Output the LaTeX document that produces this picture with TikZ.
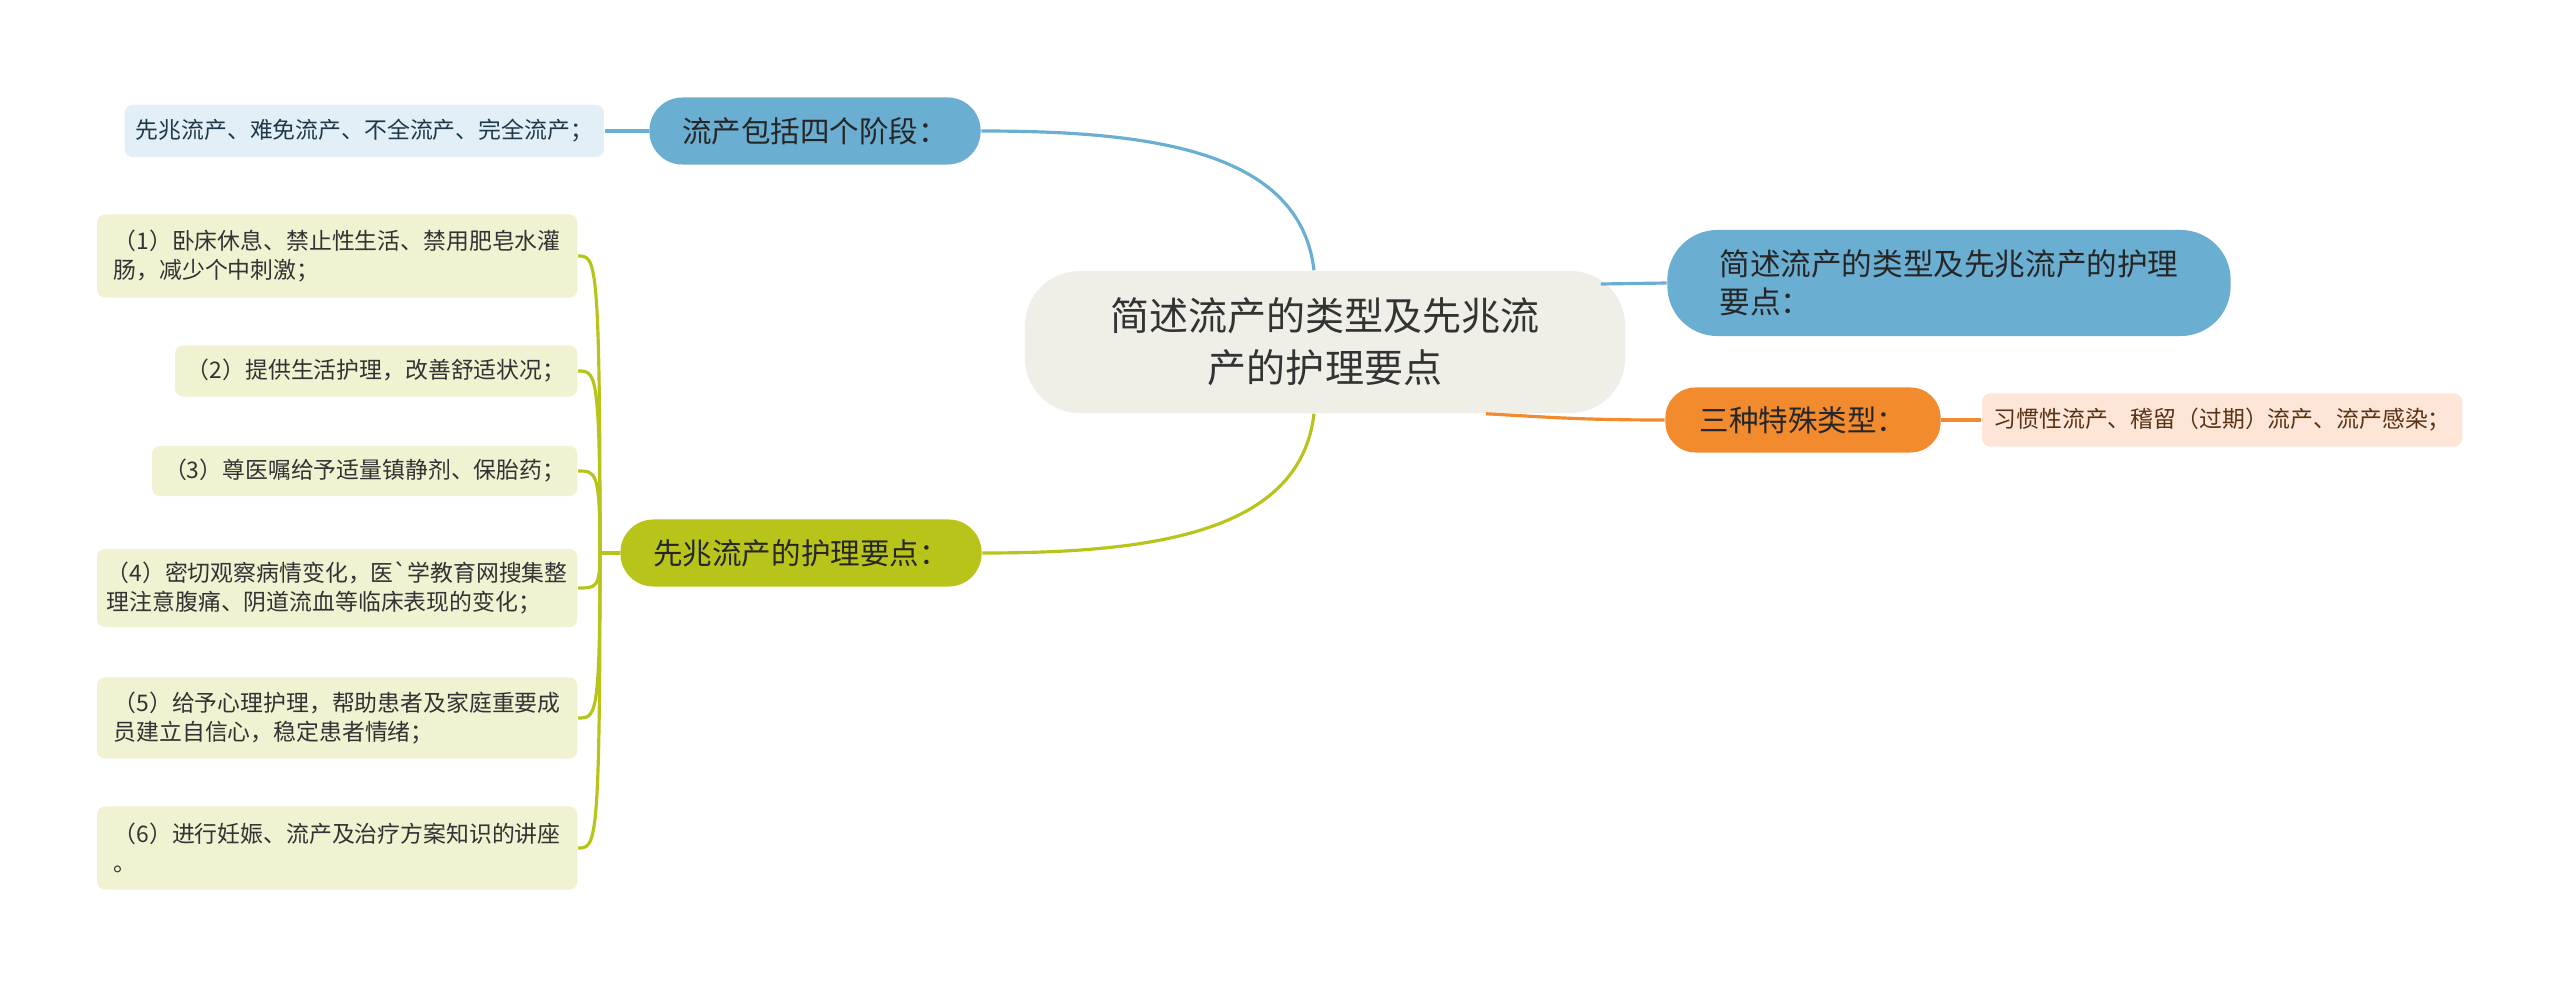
\documentclass[tikz,border=0pt]{standalone}
\usepackage{fontspec}
\setmainfont{Noto Sans CJK SC}
\usepackage{tikz}
\usetikzlibrary{positioning, calc}
\definecolor{mmRoot}{HTML}{EFEFE7}
\definecolor{mmBlue}{HTML}{6AAED2}
\definecolor{mmBlueLeaf}{HTML}{E2EFF7}
\definecolor{mmOrange}{HTML}{F28A2E}
\definecolor{mmOrangeLeaf}{HTML}{FDE6D8}
\definecolor{mmGreen}{HTML}{B9C41B}
\definecolor{mmGreenLeaf}{HTML}{F0F2D2}
\definecolor{mmText}{HTML}{333333}
\definecolor{mmBlueText}{HTML}{1E3A4A}
\definecolor{mmBrownText}{HTML}{5A3214}

\begin{document}
\begin{tikzpicture}[
  x=0.01cm, y=-0.01cm,
  root/.style={
    rectangle, rounded corners=0.55cm, fill=mmRoot,
    minimum width=6cm, minimum height=1.42cm, inner sep=0pt,
    font=\fontsize{11.1}{14.8}\selectfont, align=center, text=mmText,
  },
  topic/.style={
    rectangle, rounded corners=0.33cm, fill=#1,
    minimum height=0.67cm, inner sep=0pt,
    font=\fontsize{8.4}{10.7}\selectfont, text=black!85,
  },
  leaf/.style={
    rectangle, rounded corners=0.08cm, fill=#1,
    inner sep=0pt, align=left,
    font=\fontsize{6.5}{8.4}\selectfont, text=mmText,
  },
  link/.style={line width=0.9pt, color=#1},
]
\fill[white] (0,0) rectangle (2560,988);

% Root
\node[root] (root) at (1325,342) {简述流产的类型及先兆流\\产的护理要点};

% Blue branch (stages)
\node[topic=mmBlue, minimum width=3.31cm] (stages) at (815,131) {流产包括四个阶段：};
\node[leaf=mmBlueLeaf, text=mmBlueText, minimum width=4.79cm, minimum height=0.52cm,
  left=0.44cm of stages] (stagesList) {先兆流产、难免流产、不全流产、完全流产；};

% Blue branch (title)
\node[topic=mmBlue, minimum width=5.63cm, minimum height=1.06cm, rounded corners=0.5cm,
  align=left, font=\fontsize{8.7}{10.7}\selectfont] (title) at (1949,283)
  {简述流产的类型及先兆流产的护理\\要点：};

% Orange branch
\node[topic=mmOrange, minimum width=2.75cm, minimum height=0.65cm, rounded corners=0.3cm]
  (special) at (1803,420) {三种特殊类型：};
\node[leaf=mmOrangeLeaf, text=mmBrownText, minimum width=4.8cm, minimum height=0.53cm,
  right=0.4cm of special] (specialList) {习惯性流产、稽留（过期）流产、流产感染；};

% Green branch
\node[topic=mmGreen, minimum width=3.61cm] (care) at (801,553) {先兆流产的护理要点：};
\coordinate (careTrunk) at (600,553);

\node[leaf=mmGreenLeaf, minimum width=4.8cm, minimum height=0.83cm, anchor=east]
  (care1) at (578,256) {（1）卧床休息、禁止性生活、禁用肥皂水灌\\肠，减少个中刺激；};
\node[leaf=mmGreenLeaf, minimum width=4.02cm, minimum height=0.51cm, anchor=east]
  (care2) at (578,371) {（2）提供生活护理，改善舒适状况；};
\node[leaf=mmGreenLeaf, minimum width=4.25cm, minimum height=0.5cm, anchor=east]
  (care3) at (578,471) {（3）尊医嘱给予适量镇静剂、保胎药；};
\node[leaf=mmGreenLeaf, minimum width=4.8cm, minimum height=0.78cm, anchor=east]
  (care4) at (578,588) {（4）密切观察病情变化，医\textasciigrave 学教育网搜集整\\理注意腹痛、阴道流血等临床表现的变化；};
\node[leaf=mmGreenLeaf, minimum width=4.8cm, minimum height=0.81cm, anchor=east]
  (care5) at (578,718) {（5）给予心理护理，帮助患者及家庭重要成\\员建立自信心，稳定患者情绪；};
\node[leaf=mmGreenLeaf, minimum width=4.8cm, minimum height=0.83cm, anchor=east]
  (care6) at (578,848) {（6）进行妊娠、流产及治疗方案知识的讲座\\。};

% Connectors
\draw[link=mmBlue] ($(root.north)+(-11,0)$) .. controls (1300,150) and (1150,131) .. (stages.east);
\draw[link=mmBlue] (stages.west) -- (stagesList.east);
\draw[link=mmBlue] ($(root.east)+(-25,-58)$) -- (title.west);
\draw[link=mmOrange] ($(root.south)+(161,0)$) .. controls (1560,418) and (1590,420) .. (special.west);
\draw[link=mmOrange] (special.east) -- (specialList.west);
\draw[link=mmGreen] ($(root.south)+(-11,0)$) .. controls (1300,534) and (1150,553) .. (care.east);
\draw[link=mmGreen] (care.west) -- (careTrunk);
\foreach \i in {1,...,6}
  \draw[link=mmGreen] (careTrunk) .. controls (careTrunk |- care\i.east) and ($(care\i.east)+(18,0)$) .. (care\i.east);

\end{tikzpicture}
\end{document}
